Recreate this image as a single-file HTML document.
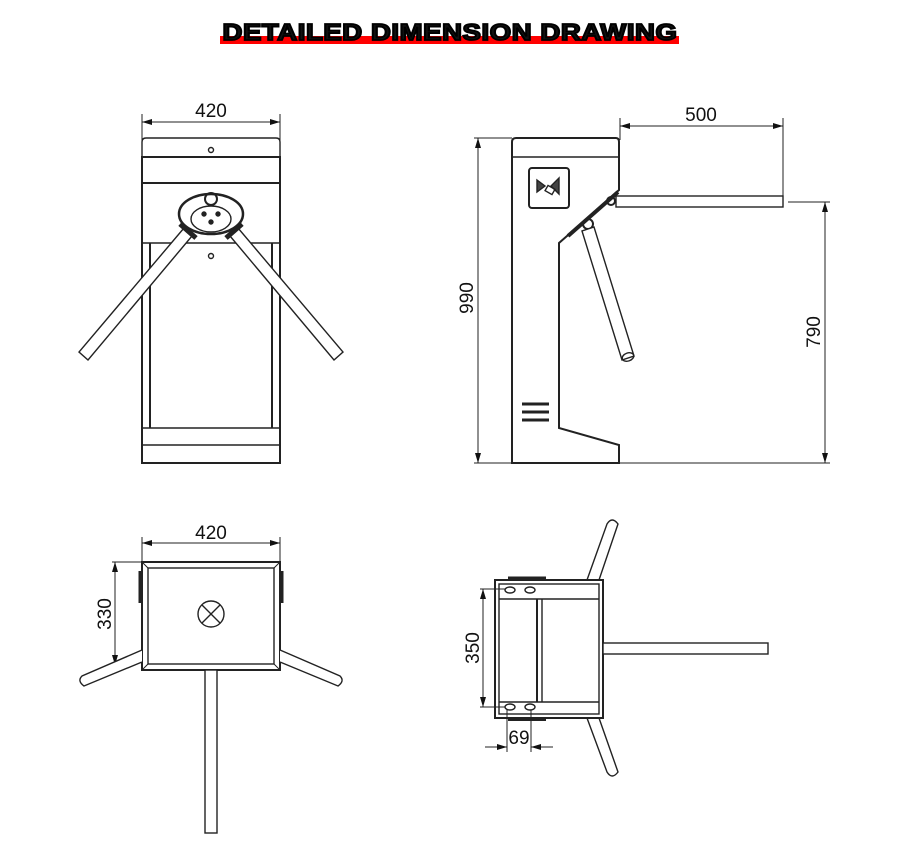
<!DOCTYPE html>
<html><head><meta charset="utf-8"><style>
html,body{margin:0;padding:0;background:#fff;width:900px;height:866px;overflow:hidden}
svg{display:block}
text{font-family:"Liberation Sans",sans-serif;fill:#111}
</style></head><body>
<svg width="900" height="866" viewBox="0 0 900 866" xmlns="http://www.w3.org/2000/svg">
<defs>
<marker id="a" viewBox="0 0 10 6" refX="10" refY="3" markerWidth="10" markerHeight="6" orient="auto-start-reverse" markerUnits="userSpaceOnUse"><path d="M0,0L10,3L0,6z" fill="#111"/></marker>
</defs>
<!-- title -->
<rect x="220" y="36" width="459" height="8" fill="#f00"/>
<text x="450" y="40" text-anchor="middle" font-size="23" font-weight="bold" style="font-family:'Liberation Sans',sans-serif;letter-spacing:0.5px" stroke="#000" stroke-width="1.8" textLength="455" lengthAdjust="spacingAndGlyphs">DETAILED DIMENSION DRAWING</text>

<g fill="none" stroke="#222" stroke-width="1.4">
<!-- VIEW 1 front -->
<line x1="142" y1="114" x2="142" y2="140" stroke-width="1"/>
<line x1="280" y1="114" x2="280" y2="140" stroke-width="1"/>
<line x1="142" y1="122" x2="280" y2="122" stroke-width="1" marker-start="url(#a)" marker-end="url(#a)"/>
<path d="M142,157 L142,142 Q142,138 146,138 L276,138 Q280,138 280,142 L280,157 Z"/>
<rect x="142" y="157" width="138" height="306" stroke-width="2"/>
<line x1="142" y1="183" x2="280" y2="183" stroke-width="2"/>
<line x1="142" y1="243" x2="280" y2="243"/>
<line x1="150" y1="243" x2="150" y2="428" stroke-width="2"/>
<line x1="272" y1="243" x2="272" y2="428" stroke-width="2"/>
<line x1="142" y1="428" x2="280" y2="428"/>
<line x1="142" y1="445" x2="280" y2="445"/>
<circle cx="211" cy="150" r="2.5"/>
<circle cx="211" cy="256" r="2.5"/>
<ellipse cx="211" cy="214" rx="32" ry="20" stroke-width="2.5"/>
<ellipse cx="211" cy="219" rx="20" ry="13"/>
<circle cx="211" cy="199" r="6" stroke-width="2"/>
<circle cx="204" cy="214" r="2" fill="#222"/><circle cx="218" cy="214" r="2" fill="#222"/><circle cx="211" cy="222" r="2" fill="#222"/>
<!-- arms -->
<path d="M184,228 L79,352 L88,360 L192,236 Z" fill="#fff"/>
<path d="M238,228 L343,352 L334,360 L230,236 Z" fill="#fff"/>
<path d="M180,224 L196,238 M242,224 L226,238" stroke-width="5"/>

<!-- VIEW 2 side -->
<line x1="474" y1="138" x2="512" y2="138" stroke-width="1"/>
<line x1="474" y1="463" x2="512" y2="463" stroke-width="1"/>
<line x1="478" y1="138" x2="478" y2="463" stroke-width="1" marker-start="url(#a)" marker-end="url(#a)"/>
<line x1="620" y1="118" x2="620" y2="140" stroke-width="1"/>
<line x1="783" y1="118" x2="783" y2="202" stroke-width="1"/>
<line x1="620" y1="126" x2="783" y2="126" stroke-width="1" marker-start="url(#a)" marker-end="url(#a)"/>
<line x1="788" y1="202" x2="830" y2="202" stroke-width="1"/>
<line x1="620" y1="463" x2="830" y2="463" stroke-width="1"/>
<line x1="825" y1="202" x2="825" y2="463" stroke-width="1" marker-start="url(#a)" marker-end="url(#a)"/>
<path d="M512,463 L512,142 Q512,138 516,138 L616,138 Q619,138 619,142 L619,190 L567,236 L559,243 L559,428 L619,445 L619,463 Z" stroke-width="2"/>
<line x1="512" y1="157" x2="619" y2="157"/>
<rect x="529" y="168" width="40" height="40" rx="3" stroke-width="2"/>
<path d="M537,180 L545,186 L537,192 Z M559,178 L551,186 L559,194 Z" fill="#444"/>
<rect x="546" y="187" width="8" height="6" transform="rotate(30 550 190)"/>
<path d="M522,404 h27 M522,412 h27 M522,420 h27" stroke-width="3"/>
<rect x="616" y="196" width="167" height="11" fill="#fff"/>
<path d="M568,236 L618,192" stroke-width="4"/>
<circle cx="611" cy="201" r="4" stroke-width="2"/>
<circle cx="588" cy="224" r="5" stroke-width="2"/>
<path d="M582,231 L622,360 L634,356 L594,227 Z" fill="#fff"/>
<ellipse cx="628" cy="357" rx="6" ry="4" transform="rotate(-20 628 357)"/>

<!-- VIEW 3 top-left -->
<line x1="142" y1="537" x2="142" y2="562" stroke-width="1"/>
<line x1="280" y1="537" x2="280" y2="562" stroke-width="1"/>
<line x1="142" y1="543" x2="280" y2="543" stroke-width="1" marker-start="url(#a)" marker-end="url(#a)"/>
<line x1="112" y1="562" x2="142" y2="562" stroke-width="1"/>
<line x1="115" y1="562" x2="115" y2="665" stroke-width="1" marker-start="url(#a)" marker-end="url(#a)"/>
<rect x="142" y="562" width="138" height="108" stroke-width="2"/>
<rect x="148" y="568" width="126" height="96"/>
<path d="M142,562 L148,568 M280,562 L274,568 M142,670 L148,664 M280,670 L274,664" stroke-width="1"/>
<circle cx="211" cy="614" r="13"/>
<path d="M202,605 L220,623 M220,605 L202,623"/>
<path d="M140,571 v32 M282,571 v32" stroke-width="3"/>
<path d="M142,650 L82,676 Q77,681 84,686 L142,662" fill="#fff"/>
<path d="M280,650 L340,676 Q345,681 338,686 L280,662" fill="#fff"/>
<rect x="205" y="670" width="12" height="163" fill="#fff"/>

<!-- VIEW 4 top-right -->
<path d="M587,580 L607,524 Q612,516 618,524 L599,580" fill="#fff"/>
<path d="M587,718 L607,772 Q612,780 618,772 L599,718" fill="#fff"/>
<rect x="495" y="580" width="108" height="138" stroke-width="2" fill="#fff"/>
<rect x="499" y="584" width="100" height="130"/>
<line x1="499" y1="599" x2="599" y2="599"/>
<line x1="499" y1="702" x2="599" y2="702"/>
<line x1="537" y1="599" x2="537" y2="702" stroke-width="2"/>
<line x1="542" y1="599" x2="542" y2="702"/>
<path d="M508,578 h38" stroke-width="3"/>
<path d="M508,720 h38" stroke-width="2"/>
<ellipse cx="510" cy="590" rx="5" ry="3"/><ellipse cx="530" cy="590" rx="5" ry="3"/>
<ellipse cx="510" cy="707" rx="5" ry="3"/><ellipse cx="530" cy="707" rx="5" ry="3"/>
<rect x="603" y="643" width="165" height="11" fill="#fff"/>
<line x1="480" y1="589" x2="505" y2="589" stroke-width="1"/>
<line x1="480" y1="707" x2="505" y2="707" stroke-width="1"/>
<line x1="483" y1="589" x2="483" y2="707" stroke-width="1" marker-start="url(#a)" marker-end="url(#a)"/>
<line x1="507" y1="710" x2="507" y2="752" stroke-width="1"/>
<line x1="531" y1="710" x2="531" y2="752" stroke-width="1"/>
<line x1="485" y1="747" x2="507" y2="747" stroke-width="1" marker-end="url(#a)"/>
<line x1="553" y1="747" x2="531" y2="747" stroke-width="1" marker-end="url(#a)"/>
</g>

<g font-size="19">
<text x="211" y="117" text-anchor="middle">420</text>
<text x="701" y="121" text-anchor="middle">500</text>
<text x="211" y="539" text-anchor="middle">420</text>
<text x="519" y="744" text-anchor="middle">69</text>
<text transform="translate(473,298) rotate(-90)" text-anchor="middle">990</text>
<text transform="translate(820,332) rotate(-90)" text-anchor="middle">790</text>
<text transform="translate(111,614) rotate(-90)" text-anchor="middle">330</text>
<text transform="translate(479,648) rotate(-90)" text-anchor="middle">350</text>
</g>
</svg>
</body></html>
